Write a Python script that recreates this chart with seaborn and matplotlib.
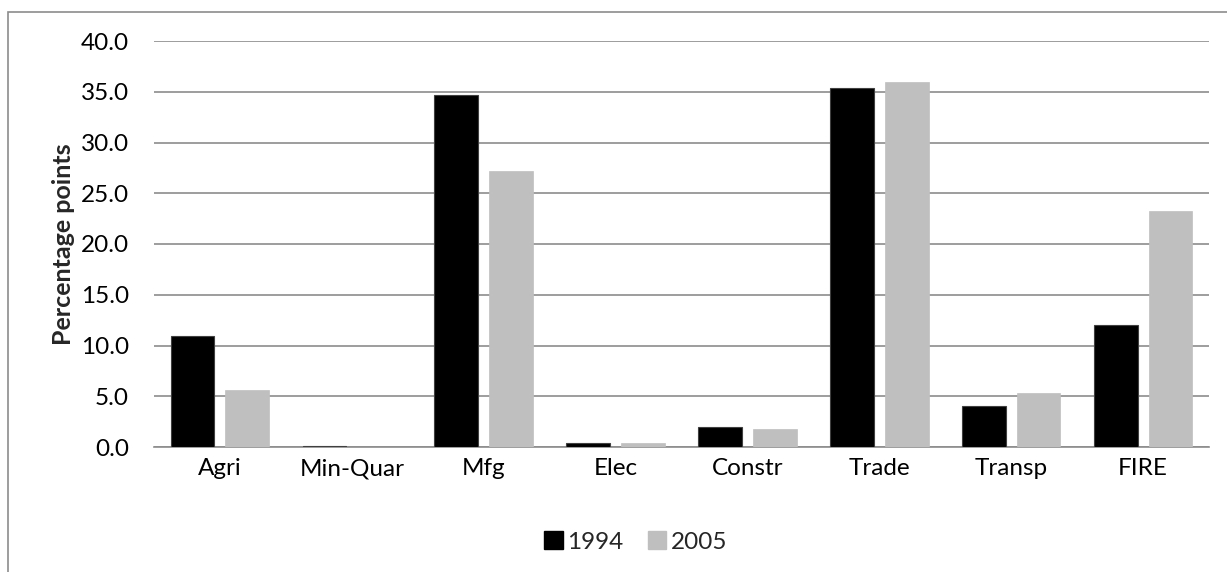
import matplotlib
matplotlib.use("Agg")
import matplotlib.pyplot as plt
import seaborn as sns
import pandas as pd
from matplotlib.patches import Rectangle, Patch

categories = ["Agri", "Min-Quar", "Mfg", "Elec", "Constr", "Trade", "Transp", "FIRE"]
values_1994 = [10.9, 0.1, 34.7, 0.4, 2.0, 35.4, 4.0, 12.0]
values_2005 = [5.6, 0.02, 27.2, 0.4, 1.8, 36.0, 5.3, 23.3]
series = ["1994", "2005"]
y_ticks = [0, 5, 10, 15, 20, 25, 30, 35, 40]

df = pd.DataFrame({
    "Sector": categories * 2,
    "Year": [series[0]] * len(categories) + [series[1]] * len(categories),
    "Value": values_1994 + values_2005,
})

sns.set_theme(style="white")
plt.rcParams["font.family"] = ["Lato", "DejaVu Sans"]

FS = 17.5

fig = plt.figure(figsize=(12.27, 5.72), dpi=100)
ax = fig.add_axes([154 / 1227, 1 - 447 / 572, (1209 - 154) / 1227, (447 - 41) / 572])

colors = {"1994": "#000000", "2005": "#bfbfbf"}
sns.barplot(data=df, x="Sector", y="Value", hue="Year", order=categories,
            hue_order=series, palette=colors, width=0.83, gap=0.2,
            ax=ax, legend=False, saturation=1, zorder=3)

for i, p in enumerate(ax.patches):
    if i < len(categories):
        p.set_edgecolor("#404040")
        p.set_linewidth(0.8)
    else:
        p.set_edgecolor("#bfbfbf")
        p.set_linewidth(0.5)

ax.set_ylim(0, 40)
ax.set_xlim(-0.5, len(categories) - 0.5)
ax.set_yticks(y_ticks)
ax.set_yticklabels([f"{v:.1f}" for v in y_ticks])
ax.yaxis.grid(True, color="#8c8c8c", linewidth=1.2, zorder=0)
ax.set_axisbelow(True)
for s in ["top", "right", "left"]:
    ax.spines[s].set_visible(False)
ax.spines["bottom"].set_color("#8c8c8c")
ax.spines["bottom"].set_linewidth(1.2)
ax.tick_params(axis="y", length=0, pad=18, labelsize=FS, colors="#000000")
ax.tick_params(axis="x", length=0, pad=8, labelsize=FS, colors="#000000")
ax.set_xlabel("")
ax.set_ylabel("Percentage points", fontsize=FS + 0.5, fontweight="bold", labelpad=4)

handles = [Patch(facecolor=colors[s], edgecolor=colors[s], label=s) for s in series]
fig.legend(handles=handles, loc="center", bbox_to_anchor=(636 / 1227, 1 - 542 / 572),
           ncol=2, frameon=False, fontsize=FS, handlelength=0.75, handleheight=0.75,
           handletextpad=0.2, columnspacing=1.0)

fig.patches.append(Rectangle((8 / 1227, -0.1), 1.2, 1 - 12 / 572 + 0.1,
                             transform=fig.transFigure, fill=False,
                             edgecolor="#8c8c8c", linewidth=1.2))

fig.savefig("out.png", dpi=100, facecolor="white")
